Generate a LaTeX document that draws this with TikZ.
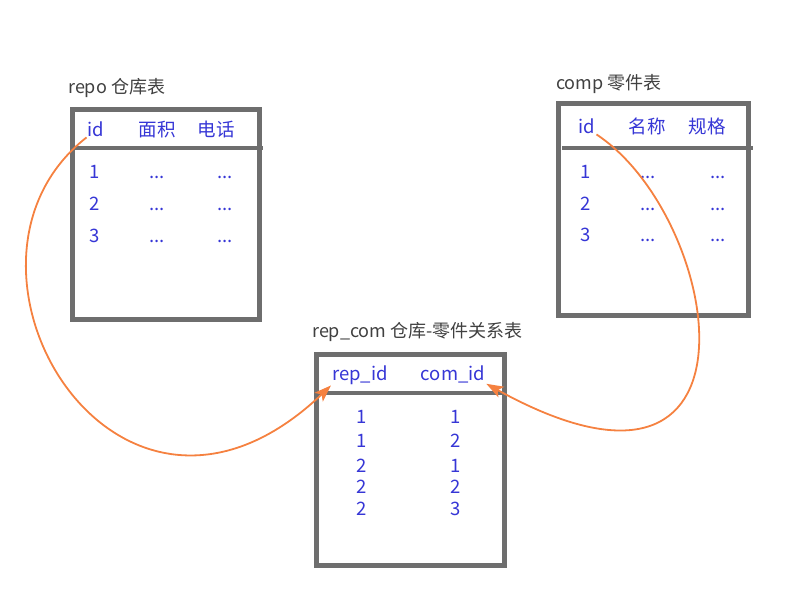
\documentclass[tikz,border=0pt]{standalone}
\usepackage{fontspec}
\setmainfont{Noto Sans CJK SC}
\usepackage{tikz}
\usetikzlibrary{positioning,arrows.meta,shadows,calc}
\definecolor{fieldblue}{HTML}{3636D6}
\definecolor{framegray}{HTML}{6E6E6E}
\definecolor{titlegray}{HTML}{404040}
\definecolor{linkorange}{HTML}{F58140}
\tikzset{%
  tbl/.style    = { draw = framegray, fill = white, line width = 4.5pt, anchor = north west,
                    drop shadow = {shadow xshift = 1.5pt, shadow yshift = -1.5pt, opacity = 0.25} },
  rule/.style   = { draw = framegray, line width = 4pt },
  ttl/.style    = { text = titlegray, anchor = west, inner sep = 1pt, font = \fontsize{18}{21}\selectfont },
  cell/.style   = { text = fieldblue, anchor = base, inner sep = 1pt, font = \fontsize{18.5}{22}\selectfont },
  link/.style   = { ->, >={Stealth[length=17pt, width=12pt, inset=4pt]}, draw = linkorange,
                    line width = 1.8pt }
}

\begin{document}
\begin{tikzpicture}[x=1pt, y=-1pt]
  \useasboundingbox (0,0) rectangle (800,600);
  % tables
  \node(repo)[tbl, minimum width = 187pt, minimum height = 210pt] at (70,107) {};
  \node(comp)[tbl, minimum width = 190pt, minimum height = 212pt] at (556,101) {};
  \node(rc)[tbl, minimum width = 188pt, minimum height = 211pt] at (314,352) {};
  \draw[rule] (repo.west |- 0,148) -- (263,148);
  \draw[rule] (562,148) -- (753,148);
  \draw[rule] (rc.west |- 0,393) -- (rc.east |- 0,393);
  % titles
  \node(repo-t)[ttl] at (67,88) {repo 仓库表};
  \node(comp-t)[ttl] at (555,84) {comp 零件表};
  \node(rc-t)[ttl] at (311,332) {rep\_com 仓库-零件关系表};
  % repo
  \node(repo-id)[cell] at (96,136) {id};
  \node(repo-mj)[cell] at (157,136) {面积};
  \node(repo-dh)[cell] at (216,136) {电话};
  \foreach \n/\y in {1/178, 2/210, 3/242} {
    \node(repo-a\n)[cell] at (95,\y) {\n};
    \node(repo-b\n)[cell] at (157,\y) {...};
    \node(repo-c\n)[cell] at (225,\y) {...};
  }
  % comp
  \node(comp-id)[cell] at (587,133) {id};
  \node(comp-mc)[cell] at (647,133) {名称};
  \node(comp-gg)[cell] at (707,133) {规格};
  \foreach \n/\y in {1/178, 2/210, 3/241} {
    \node(comp-a\n)[cell] at (586,\y) {\n};
    \node(comp-b\n)[cell] at (648,\y) {...};
    \node(comp-c\n)[cell] at (718,\y) {...};
  }
  % rep_com
  \node(rc-rid)[cell] at (360,380) {rep\_id};
  \node(rc-cid)[cell] at (453,380) {com\_id};
  \foreach \i/\a/\b/\y in {1/1/1/423, 2/1/2/447, 3/2/1/472, 4/2/2/493, 5/2/3/515} {
    \node(rc-a\i)[cell] at (362,\y) {\a};
    \node(rc-b\i)[cell] at (456,\y) {\b};
  }
  % links
  \draw[link] (repo-id.south west) .. controls +(-162,127) and +(-215,205) .. (rc-rid.south west);
  \draw[link] (comp-id.south east) .. controls +(126,83) and +(290,160) .. (rc-cid.south east);
\end{tikzpicture}
\end{document}
